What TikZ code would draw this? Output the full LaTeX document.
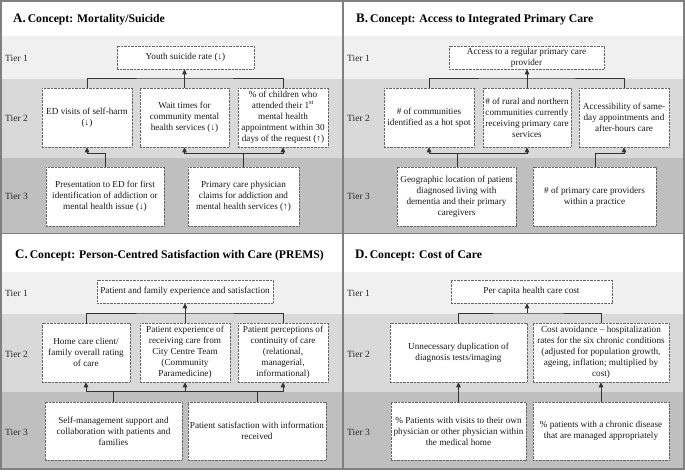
\documentclass[tikz,border=0pt]{standalone}
\usepackage{fontspec}
\setmainfont{Liberation Serif}
\usetikzlibrary{arrows.meta}
\definecolor{bandA}{HTML}{F0F0F0}
\definecolor{bandB}{HTML}{D9D9D9}
\definecolor{bandC}{HTML}{BFBFBF}
\definecolor{frameC}{HTML}{808080}
\tikzset{
  ibox/.style={draw=black!60, dash pattern=on 0.7pt off 0.7pt, line width=0.6pt, fill=white,
    inner sep=0.5pt, align=center, font=\fontsize{9.2}{11}\selectfont, text=black!90},
  conn/.style={draw=black!80, line width=0.9pt},
  arr/.style={conn, -{Triangle[width=4.5pt,length=5pt]}},
  tierlbl/.style={anchor=west, inner sep=0pt, font=\fontsize{9.5}{11}\selectfont, text=black!85},
  ttl/.style={anchor=base west, inner sep=0pt, font=\fontsize{11.7}{13}\bfseries\selectfont},
}
\newcommand\ttlletter[1]{{\fontsize{13}{13}\selectfont #1}}
\begin{document}
\begin{tikzpicture}[x=1pt,y=-1pt]
\useasboundingbox (0,0) rectangle (685,471);
% bands
\foreach \xa/\xb in {2/343,343/684}{
  \fill[bandA] (\xa,36) rectangle (\xb,79);
  \fill[bandB] (\xa,79) rectangle (\xb,158);
  \fill[bandC] (\xa,158) rectangle (\xb,233);
  \fill[bandA] (\xa,272) rectangle (\xb,314);
  \fill[bandB] (\xa,314) rectangle (\xb,392);
  \fill[bandC] (\xa,392) rectangle (\xb,469);
}
% frame
\draw[frameC, line width=1.3pt] (1,1) rectangle (684,469);
\draw[frameC, line width=1.3pt] (343,1) -- (343,469);
\draw[frameC, line width=1.3pt] (1,233.5) -- (684,233.5);

% titles
\node[ttl] (tA) at (13,22) {\ttlletter{A.}\,Concept: Mortality/Suicide};
\node[ttl] (tB) at (356,22) {\ttlletter{B.}\,Concept: Access to Integrated Primary Care};
\node[ttl] (tC) at (15,258) {\ttlletter{C.}\,Concept: Person-Centred Satisfaction with Care (PREMS)};
\node[ttl] (tD) at (355,258) {\ttlletter{D.}\,Concept: Cost of Care};

% tier labels
\foreach \xx/\nm in {5/a,347/b}{
  \node[tierlbl] (\nm t1) at (\xx,58) {Tier 1};
  \node[tierlbl] (\nm t2) at (\xx,118) {Tier 2};
  \node[tierlbl] (\nm t3) at (\xx,196) {Tier 3};
}
\foreach \xx/\nm in {5/c,347/d}{
  \node[tierlbl] (\nm t1) at (\xx,293) {Tier 1};
  \node[tierlbl] (\nm t2) at (\xx,354) {Tier 2};
  \node[tierlbl] (\nm t3) at (\xx,432) {Tier 3};
}

% ---------- Panel A ----------
\node[ibox, minimum width=137, minimum height=23] (a1) at (185.5,57.5) {Youth suicide rate (↓)};
\node[ibox, minimum width=90, minimum height=59] (a21) at (87,117.5) {ED visits of self-harm\\(↓)};
\node[ibox, minimum width=89, minimum height=59] (a22) at (184.5,117.5) {Wait times for\\community mental\\health services (↓)};
\node[ibox, minimum width=90, minimum height=59] (a23) at (283,117.5) {\% of children who\\attended their 1\textsuperscript{st}\\mental health\\appointment within 30\\days of the request (↑)};
\node[ibox, minimum width=118, minimum height=59] (a31) at (105,196.5) {Presentation to ED for first\\identification of addiction or\\mental health issue (↓)};
\node[ibox, minimum width=111, minimum height=59] (a32) at (243.5,196.5) {Primary care physician\\claims for addiction and\\mental health services (↑)};
\coordinate (aj1) at (184.5,78);
\coordinate (aj2) at (105,153);
\coordinate (aj3) at (243.5,153);
\draw[conn] (a21.north) |- (aj1) -| (a23.north);
\draw[arr] (a22.north) -- (a22.north |- a1.south);
\draw[arr] (a31.north) -- (aj2) -| (a21.south);
\draw[conn] (a32.north) -- (aj3);
\draw[arr] (aj3) -| (a22.south);
\draw[arr] (aj3) -| (a23.south);

% ---------- Panel B ----------
\node[ibox, minimum width=155, minimum height=23] (b1) at (526.5,57.5) {Access to a regular primary care\\provider};
\node[ibox, minimum width=90, minimum height=59] (b21) at (429,117.5) {\# of communities\\identified as a hot spot};
\node[ibox, minimum width=88, minimum height=59] (b22) at (527,117.5) {\# of rural and northern\\communities currently\\receiving primary care\\services};
\node[ibox, minimum width=90, minimum height=59] (b23) at (624,117.5) {Accessibility of same-\\day appointments and\\after-hours care};
\node[ibox, minimum width=119, minimum height=59] (b31) at (456.5,196.5) {Geographic location of patient\\diagnosed living with\\dementia and their primary\\caregivers};
\node[ibox, minimum width=123, minimum height=59] (b32) at (594.5,196.5) {\# of primary care providers\\within a practice};
\coordinate (bj1) at (527,78);
\coordinate (bj2) at (457,153);
\coordinate (bj3) at (595,153);
\draw[conn] (b21.north) |- (bj1) -| (b23.north);
\draw[arr] (b22.north) -- (b22.north |- b1.south);
\draw[conn] (bj2 |- b31.north) -- (bj2);
\draw[arr] (bj2) -| (b21.south);
\draw[arr] (bj2) -| (b22.south);
\draw[arr] (bj3 |- b32.north) -- (bj3) -| (b23.south);

% ---------- Panel C ----------
\node[ibox, minimum width=176, minimum height=23] (c1) at (185,291.5) {Patient and family experience and satisfaction};
\node[ibox, minimum width=88, minimum height=59] (c21) at (86,352.5) {Home care client/\\family overall rating\\of care};
\node[ibox, minimum width=90, minimum height=59] (c22) at (185,352.5) {Patient experience of\\receiving care from\\City Centre Team\\(Community\\Paramedicine)};
\node[ibox, minimum width=90, minimum height=59] (c23) at (283,352.5) {Patient perceptions of\\continuity of care\\(relational,\\managerial,\\informational)};
\node[ibox, minimum width=137, minimum height=58] (c31) at (113.5,431) {Self-management support and\\collaboration with patients and\\families};
\node[ibox, minimum width=138, minimum height=58] (c32) at (257,431) {Patient satisfaction with information\\received};
\coordinate (cj1) at (185,313);
\coordinate (cj2) at (113.5,391);
\coordinate (cj3) at (257,391);
\coordinate (cjm) at (185,391);
\draw[conn] (c21.north) |- (cj1) -| (c23.north);
\draw[arr] (c22.north) -- (c22.north |- c1.south);
\draw[conn] (c31.north) -- (cj2);
\draw[conn] (c32.north) -- (cj3);
\draw[arr] (cj2) -| (c21.south);
\draw[arr] (cj3) -| (c23.south);
\draw[conn] (cj2) -- (cj3);
\draw[arr] (cjm) -- (c22.south);

% ---------- Panel D ----------
\node[ibox, minimum width=161, minimum height=23] (d1) at (531.5,291.5) {Per capita health care cost};
\node[ibox, minimum width=137, minimum height=59] (d21) at (458.5,352.5) {Unnecessary duplication of\\diagnosis tests/imaging};
\node[ibox, minimum width=136, minimum height=59] (d22) at (601,352.5) {Cost avoidance -- hospitalization\\rates for the six chronic conditions\\(adjusted for population growth,\\ageing, inflation; multiplied by\\cost)};
\node[ibox, minimum width=135, minimum height=58] (d31) at (458.5,431) {\% Patients with visits to their own\\physician or other physician within\\the medical home};
\node[ibox, minimum width=136, minimum height=58] (d32) at (601,431) {\% patients with a chronic disease\\that are managed appropriately};
\coordinate (dj1) at (527,313);
\draw[conn] (d21.north) |- (dj1) -| (d22.north);
\draw[arr] (dj1) -- (dj1 |- d1.south);
\draw[arr] (d31.north) -- (d21.south);
\draw[arr] (d32.north) -- (d22.south);
\end{tikzpicture}
\end{document}
